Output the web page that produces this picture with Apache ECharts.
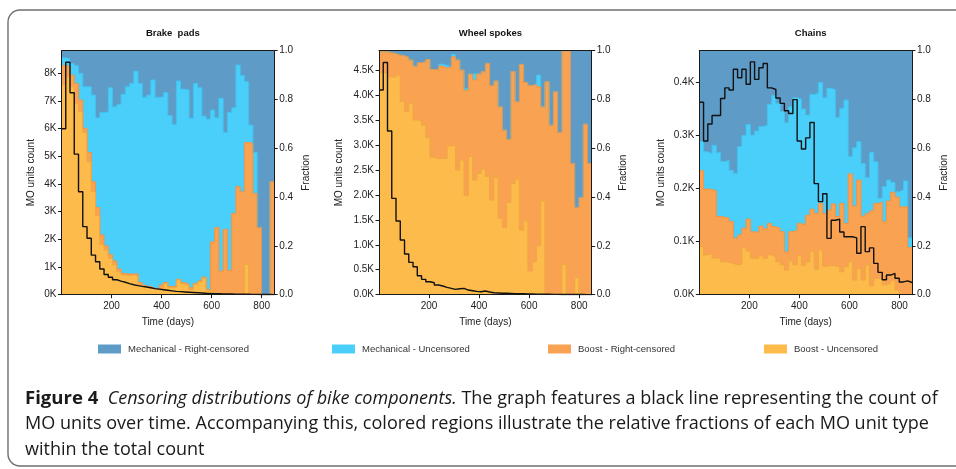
<!DOCTYPE html>
<html><head><meta charset="utf-8">
<script src="https://cdn.jsdelivr.net/npm/echarts@6/dist/echarts.min.js"></script>
<style>html,body{margin:0;padding:0;background:#fff}#c{width:956px;height:469px}</style>
</head><body><div id="c"></div>
<script>
// ---- data ----
const binEdges = [0,17,34,51,68,85,102,119,136,153,170,187,204,221,238,255,272,289,306,323,340,357,374,391,408,425,442,459,476,493,510,527,544,561,578,595,612,629,646,663,680,697,714,731,748,765,782,799,816,833,850];
const xTicks = [200,400,600,800];
const legendNames = ['Mechanical - Right-censored','Mechanical - Uncensored','Boost - Right-censored','Boost - Uncensored'];
const panelTitles = ['Brake  pads','Wheel spokes','Chains'];
const totalFraction = 1.0; // all four categories together

// Brake pads (cumulative fraction boundaries, bottom -> top)
const brakeCount = [6000,8400,7300,5080,3720,2460,2040,1430,1190,930,730,630,540,490,450,400,360,330,300,280,250,220,200,180,160,140,120,110,100,90,80,70,60,50,45,40,35,30,30,25,20,20,15,15,10,10,8,6,5,4];
const brakeCountTicks = [0,1000,2000,3000,4000,5000,6000,7000,8000];
const brakeBoostUnc = [0.862,0.893,0.852,0.784,0.75,0.665,0.545,0.422,0.324,0.206,0.183,0.149,0.122,0.094,0.081,0.077,0.081,0.077,0.042,0.033,0.029,0.023,0.019,0.026,0.046,0.029,0.03,0.06,0.045,0.038,0.021,0.042,0.052,0.068,0.015,0.008,0.005,0.004,0.003,0.003,0.002,0.002,0.002,0.124,0,0,0,0,0,0];
const brakeBoostTop = [0.939,0.934,0.9,0.866,0.798,0.682,0.583,0.463,0.357,0.245,0.2,0.165,0.138,0.105,0.087,0.085,0.085,0.085,0.05,0.037,0.033,0.026,0.023,0.04,0.05,0.033,0.035,0.063,0.05,0.042,0.028,0.046,0.056,0.072,0.02,0.217,0.275,0.097,0.268,0.099,0.333,0.443,0.422,0.624,0.62,0.415,0.275,0,0,0.463];
const brakeMechUncTop = [0.971,0.966,0.948,0.939,0.907,0.852,0.852,0.818,0.725,0.746,0.75,0.848,0.77,0.78,0.821,0.852,0.866,0.916,0.866,0.809,0.818,0.88,0.809,0.811,0.829,0.734,0.698,0.876,0.842,0.839,0.723,0.866,0.848,0.732,0.72,0.757,0.725,0.805,0.665,0.747,0.766,0.941,0.898,0.873,0.695,0.583,0.275,0,0,0.463];

// Wheel spokes
const wheelCount = [4100,4650,3280,1930,1475,1095,814,648,560,380,307,260,240,194,174,147,127,107,120,127,93,80,67,60,73,53,40,35,30,28,25,22,20,18,16,14,12,10,9,8,7,6,5,5,4,4,3,3,2,2];
const wheelCountTicks = [0,500,1000,1500,2000,2500,3000,3500,4000,4500];
const wheelBoostUnc = [0.911,0.907,0.893,0.891,0.9,0.791,0.75,0.784,0.716,0.713,0.695,0.643,0.563,0.557,0.559,0.557,0.609,0.613,0.511,0.552,0.408,0.566,0.47,0.497,0.515,0.484,0.388,0.48,0.313,0.275,0.378,0.456,0.474,0.265,0.302,0.097,0.135,0.2,0.384,0.005,0.004,0.004,0.003,0.124,0.003,0.002,0.071,0.002,0.002,0.002];
const wheelBoostTop = [0.996,0.996,0.992,0.989,0.982,0.98,0.973,0.962,0.937,0.951,0.955,0.964,0.923,0.923,0.937,0.929,0.934,0.975,0.962,0.921,0.836,0.904,0.88,0.904,0.914,0.948,0.857,0.876,0.77,0.675,0.637,0.914,0.791,0.944,0.87,0.857,0.862,0.852,0.77,0.873,0.695,0.832,0.665,1.0,1.0,0.538,0.357,0.398,0.699,0.538];
const wheelMechUncTop = [0.996,0.996,0.992,0.989,0.982,0.98,0.973,0.962,0.937,0.951,0.955,0.964,0.923,0.923,0.945,0.94,0.934,0.984,0.962,0.921,0.845,0.904,0.907,0.904,0.914,0.948,0.857,0.876,0.77,0.675,0.637,0.914,0.791,0.944,0.87,0.857,0.862,0.9,0.77,0.873,0.695,0.832,0.665,1.0,1.0,0.538,0.357,0.398,0.699,0.538];

// Chains
const chainsCount = [362,289,321,337,337,369,389,385,424,408,424,396,438,405,427,435,389,386,370,360,346,341,367,289,274,295,324,209,175,190,106,140,142,118,109,109,107,78,128,81,88,59,42,28,37,40,31,24,26,23];
const chainsCountTicks = [0,100,200,300,400];
const chainsBoostUnc = [0.197,0.163,0.169,0.15,0.147,0.135,0.133,0.128,0.122,0.125,0.193,0.179,0.149,0.149,0.16,0.149,0.163,0.156,0.135,0.122,0.101,0.138,0.122,0.16,0.12,0.134,0.176,0.104,0.183,0.117,0.12,0.118,0.115,0.094,0.115,0.135,0.06,0.108,0.06,0.122,0.036,0.067,0.063,0.04,0.046,0.057,0.019,0,0,0];
const chainsBoostTop = [0.508,0.433,0.431,0.426,0.32,0.318,0.314,0.3,0.231,0.245,0.272,0.31,0.258,0.255,0.281,0.27,0.292,0.279,0.272,0.258,0.176,0.258,0.265,0.292,0.285,0.326,0.35,0.333,0.374,0.333,0.347,0.372,0.32,0.374,0.292,0.495,0.363,0.47,0.322,0.333,0.344,0.374,0.38,0.3,0.384,0.42,0.4,0.36,0.36,0.193];
const chainsMechUncTop = [0.627,0.586,0.578,0.612,0.582,0.546,0.55,0.51,0.497,0.607,0.652,0.698,0.654,0.671,0.689,0.695,0.78,0.816,0.784,0.75,0.705,0.77,0.807,0.802,0.761,0.736,0.821,0.825,0.87,0.807,0.846,0.84,0.727,0.764,0.798,0.566,0.602,0.627,0.538,0.48,0.583,0.545,0.395,0.443,0.47,0.46,0.422,0.43,0.466,0.233];

// ---- styling / layout ----
const FONT = '"Liberation Sans", Arial, sans-serif';
const colors = ['#5E9BC6','#4ACFFB','#F9A252','#FCBB4A'];
const edgeColors = ['#5690BC','#43C2EE','#EC9547','#F0A843'];
const panels = [
  {count: brakeCount, ticks: brakeCountTicks, max: 8820, digits: 0, unc: brakeBoostUnc, boost: brakeBoostTop, mech: brakeMechUncTop, left: 61.5, gapL: 25},
  {count: wheelCount, ticks: wheelCountTicks, max: 4887, digits: 1, unc: wheelBoostUnc, boost: wheelBoostTop, mech: wheelMechUncTop, left: 379, gapL: 35},
  {count: chainsCount, ticks: chainsCountTicks, max: 459, digits: 1, unc: chainsBoostUnc, boost: chainsBoostTop, mech: chainsMechUncTop, left: 699.3, gapL: 33}
];
const GW = 212.7, GT = 50.7, GH = 244;

function stepData(vals){
  const d = vals.map((v,i)=>[binEdges[i], v]);
  d.push([binEdges[vals.length], vals[vals.length-1]]);
  return d;
}

const grid=[], xAxis=[], yAxis=[], series=[], title=[];
const axisLineStyle = {color:'#1a1a1a', width:1};
const labelStyle = {fontSize:10, color:'#222', fontFamily: FONT};
panels.forEach((p, k) => {
  grid.push({left: p.left, top: GT, width: GW, height: GH});
  title.push({text: panelTitles[k], left: p.left + GW/2, top: 23, textAlign: 'center',
    textStyle: {fontSize: 9.5, fontWeight: 'bold', color: '#111', fontFamily: FONT}});
  xAxis.push({type:'value', gridIndex:k, min:0, max:850, z:5,
    name:'Time (days)', nameLocation:'middle', nameGap:23, nameTextStyle: labelStyle,
    axisLine:{show:true, onZero:false, lineStyle:axisLineStyle},
    axisTick:{show:true, length:3.5, customValues:xTicks, lineStyle:axisLineStyle},
    axisLabel:{customValues:xTicks, margin:6.5, ...labelStyle},
    splitLine:{show:false}});
  xAxis.push({type:'value', gridIndex:k, min:0, max:850, position:'top', z:5,
    axisLine:{show:true, onZero:false, lineStyle:axisLineStyle},
    axisTick:{show:false}, axisLabel:{show:false}, splitLine:{show:false}});
  yAxis.push({type:'value', gridIndex:k, min:0, max:p.max, position:'left', z:5,
    name:'MO units count', nameLocation:'middle', nameGap:p.gapL, nameRotate:90, nameTextStyle: labelStyle,
    axisLine:{show:true, onZero:false, lineStyle:axisLineStyle},
    axisTick:{show:true, length:3.5, customValues:p.ticks, lineStyle:axisLineStyle},
    axisLabel:{customValues:p.ticks, margin:5, ...labelStyle, formatter: v => (v/1000).toFixed(p.digits)+'K'},
    splitLine:{show:false}});
  yAxis.push({type:'value', gridIndex:k, min:0, max:1, interval:0.2, position:'right', z:5,
    name:'Fraction', nameLocation:'middle', nameGap:27, nameRotate:90, nameTextStyle: labelStyle,
    axisLine:{show:true, onZero:false, lineStyle:axisLineStyle},
    axisTick:{show:true, length:3.5, lineStyle:axisLineStyle},
    axisLabel:{margin:5, ...labelStyle, formatter: v => v.toFixed(1)},
    splitLine:{show:false}});
  // cumulative levels, drawn back to front (each filled down to 0)
  const levels = [
    binEdges.slice(0,50).map(() => totalFraction), // Mechanical - Right-censored tops out at 1
    p.mech, p.boost, p.unc
  ];
  levels.forEach((arr, ci) => {
    series.push({type:'line', name: legendNames[ci], xAxisIndex: 2*k, yAxisIndex: 2*k+1,
      step:'end', showSymbol:false, symbol:'none', silent:true,
      data: stepData(arr),
      itemStyle:{color: colors[ci]},
      lineStyle:{color: edgeColors[ci], width: ci === 0 ? 0 : 1},
      areaStyle:{color: colors[ci], opacity:1, origin:'start'},
      z: 2});
  });
  series.push({type:'line', name:'MO units count', xAxisIndex: 2*k, yAxisIndex: 2*k,
    step:'end', showSymbol:false, symbol:'none', silent:true,
    data: stepData(p.count), lineStyle:{color:'#111', width:1.4}, z: 4});
});

const legendLefts = [93, 327, 543, 759];
const legend = legendNames.map((n,i) => ({
  left: legendLefts[i], top: 339, icon:'rect', itemWidth:23, itemHeight:9,
  selectedMode:false,
  data:[{name:n, itemStyle:{color: colors[i]}}],
  textStyle:{fontSize:9.5, color:'#333', fontFamily: FONT, padding:[0,0,0,2]}
}));

const capFont = '"Open Sans", "Liberation Sans", sans-serif';
const capSize = 17.5;
const rich = {
  b:{fontWeight:'bold', fontSize:capSize+0.5, fontFamily:capFont, fill:'#1a1a1a'},
  i:{fontStyle:'italic', fontSize:capSize, fontFamily:capFont, fill:'#1a1a1a'},
  n:{fontSize:capSize, fontFamily:capFont, fill:'#1a1a1a'}
};
const captionLines = [
  '{b|Figure 4}{n|  }{i|Censoring distributions of bike components.}{n| The graph features a black line representing the count of}',
  '{n|MO units over time. Accompanying this, colored regions illustrate the relative fractions of each MO unit type}',
  '{n|within the total count}'
];
const graphic = [
  {type:'rect', shape:{x:8, y:10, width:990, height:456, r:12}, style:{fill:'none', stroke:'#6f6f6f', lineWidth:1.4}, silent:true, z:-1},
  ...captionLines.map((t,i) => ({type:'text', x:25, y:399 + i*25.5, scaleX:1.03,
    style:{text:t, rich, fontSize:capSize, fontFamily:capFont, fill:'#1a1a1a', verticalAlign:'middle'}}))
];

const chart = echarts.init(document.getElementById('c'), null, {renderer:'canvas'});
chart.setOption({animation:false, backgroundColor:'#fff', title, grid, xAxis, yAxis, series, legend, graphic});
</script></body></html>
